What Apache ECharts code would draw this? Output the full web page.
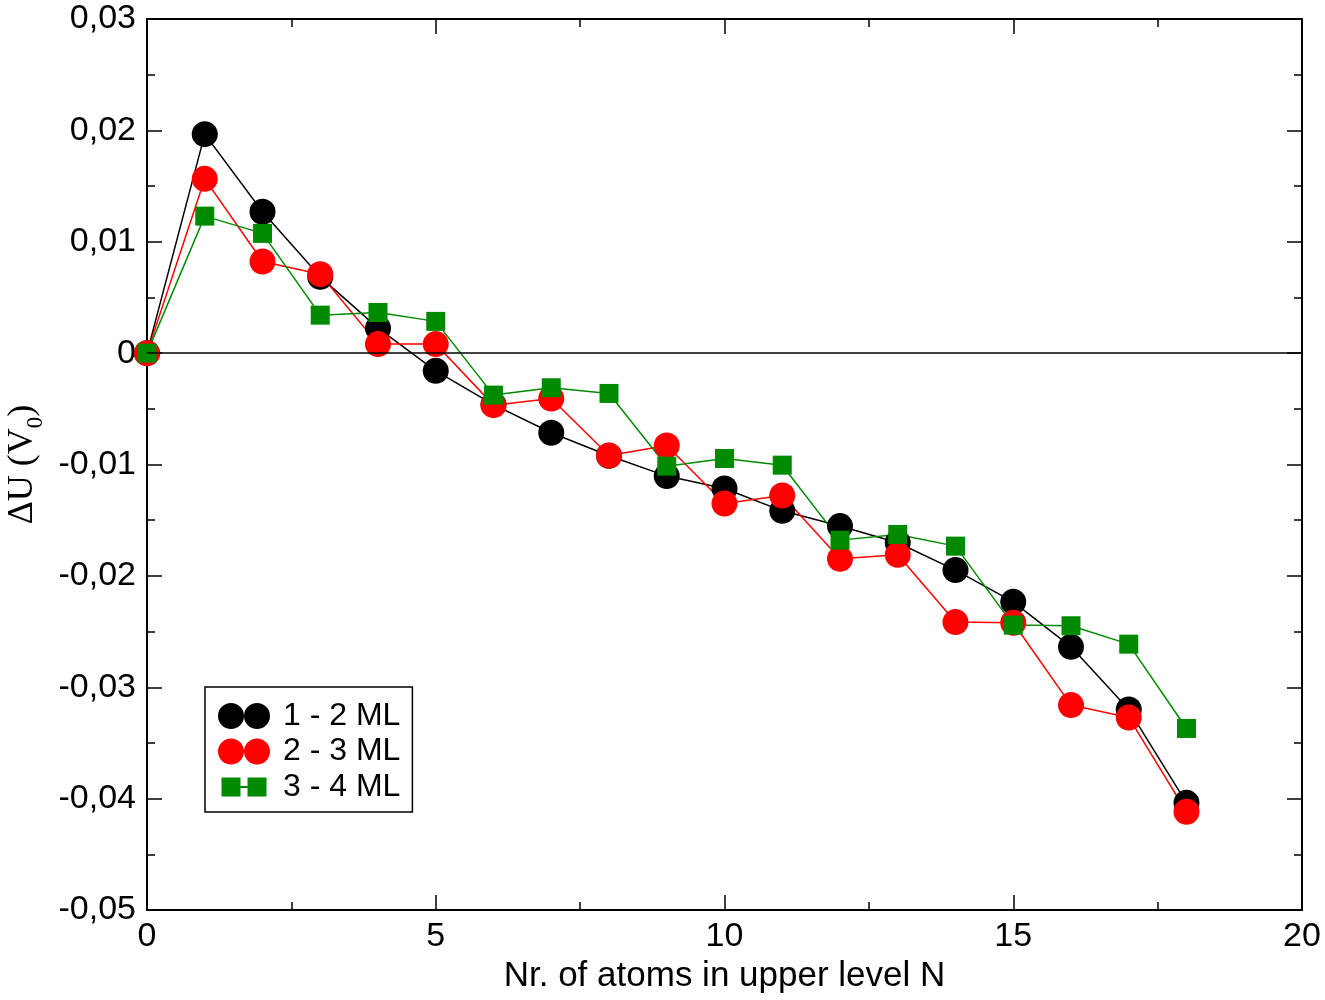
<!DOCTYPE html>
<html><head><meta charset="utf-8">
<script src="https://cdn.jsdelivr.net/npm/echarts@6/dist/echarts.min.js"></script>
<style>html,body{margin:0;padding:0;background:#fff}#c{width:1325px;height:1000px}</style>
</head><body><div id="c"></div>
<script>
// ---- data ----
const atomsN = [0,1,2,3,4,5,6,7,8,9,10,11,12,13,14,15,16,17,18];
const ml12 = [0, 0.01966, 0.01269, 0.00685, 0.00224, -0.00159, -0.00462, -0.00715, -0.00921, -0.01104, -0.01215, -0.01416, -0.01553, -0.01703, -0.01948, -0.02233, -0.02637, -0.03200, -0.04038];
const ml23 = [0, 0.01565, 0.00823, 0.00709, 0.00081, 0.00081, -0.00467, -0.00407, -0.00919, -0.00829, -0.01350, -0.01278, -0.01847, -0.01811, -0.02415, -0.02421, -0.03160, -0.03271, -0.04118];
const ml34 = [0, 0.01230, 0.01075, 0.00341, 0.00365, 0.00285, -0.00377, -0.00311, -0.00362, -0.01015, -0.00946, -0.01006, -0.01679, -0.01628, -0.01733, -0.02442, -0.02448, -0.02613, -0.03370];
const seriesNames = ['1 - 2 ML', '2 - 3 ML', '3 - 4 ML'];
const xTitle = 'Nr. of atoms in upper level N';
const yTitleMain = 'ΔU (V';
const yTitleSub = '0';
const yTitleEnd = ')';

// ---- styling ----
const SANS = '"Liberation Sans", Arial, Helvetica, sans-serif';
const SERIF = '"Liberation Serif", "Times New Roman", serif';
const colors = ['#000000', '#ff0000', '#008a00'];

function yFmt(v) {
  const r = Math.round(v * 100) / 100;
  if (r === 0) return '0';
  return r.toFixed(2).replace('.', ',');
}

const lineStyleAx = { color: '#000', width: 2 };
const tickCommon = { show: true, inside: true, length: 15, lineStyle: { color: '#000', width: 1.5 } };
const minorCommon = { show: true, splitNumber: 2, length: 8, lineStyle: { color: '#000', width: 1.5 } };

const circles2 = 'path://M0,13 A13,13 0 1,0 26,13 A13,13 0 1,0 0,13 Z M26,13 A13,13 0 1,0 52,13 A13,13 0 1,0 26,13 Z';
const squares2 = 'path://M0,0 L0,0.001 Z M52,26 L52,25.999 Z M3.5,3.5 L22.5,3.5 L22.5,12 L29.5,12 L29.5,3.5 L48.5,3.5 L48.5,22.5 L29.5,22.5 L29.5,14 L22.5,14 L22.5,22.5 L3.5,22.5 Z';

function mk(arr) { return atomsN.map((n, i) => [n, arr[i]]); }

const chart = echarts.init(document.getElementById('c'), null, { renderer: 'canvas' });
chart.setOption({
  animation: false,
  backgroundColor: '#fff',
  grid: { left: 147, right: 23, top: 19, bottom: 90, containLabel: false, outerBoundsMode: 'none' },
  xAxis: [{
    type: 'value', min: 0, max: 20, interval: 5, position: 'bottom',
    axisLine: { onZero: false, lineStyle: lineStyleAx },
    axisTick: tickCommon, minorTick: minorCommon,
    splitLine: { show: false },
    axisLabel: { color: '#000', fontSize: 34, fontFamily: SANS, margin: 10 },
    name: xTitle, nameLocation: 'middle', nameGap: 46,
    nameTextStyle: { color: '#000', fontSize: 35, fontFamily: SANS }
  }, {
    type: 'value', min: 0, max: 20, interval: 5, position: 'top',
    axisLine: { onZero: false, lineStyle: lineStyleAx },
    axisTick: tickCommon, minorTick: minorCommon,
    splitLine: { show: false }, axisLabel: { show: false }
  }],
  yAxis: [{
    type: 'value', min: -0.05, max: 0.03, interval: 0.01, position: 'left',
    axisLine: { onZero: false, lineStyle: lineStyleAx },
    axisTick: tickCommon, minorTick: minorCommon,
    splitLine: { show: false },
    axisLabel: { color: '#000', fontSize: 34, fontFamily: SANS, margin: 11, formatter: yFmt },
    name: '{a|' + yTitleMain + '}{s|' + yTitleSub + '}{a|' + yTitleEnd + '}',
    nameLocation: 'middle', nameGap: 103, nameRotate: 90,
    nameTextStyle: {
      color: '#000', fontFamily: SERIF,
      rich: {
        a: { fontSize: 36, fontFamily: SERIF, color: '#000', lineHeight: 36, verticalAlign: 'top' },
        s: { fontSize: 23, fontFamily: SERIF, color: '#000', lineHeight: 23, verticalAlign: 'top', padding: [20, 0, 0, 0] }
      }
    }
  }, {
    type: 'value', min: -0.05, max: 0.03, interval: 0.01, position: 'right',
    axisLine: { onZero: false, lineStyle: lineStyleAx },
    axisTick: tickCommon, minorTick: minorCommon,
    splitLine: { show: false }, axisLabel: { show: false }
  }],
  legend: {
    left: 205, top: 687, orient: 'vertical',
    itemWidth: 52, itemHeight: 26, itemGap: 3.5,
    padding: [13, 12, 9, 13],
    borderColor: '#000', borderWidth: 1.5, backgroundColor: '#fff',
    textStyle: { color: '#000', fontSize: 32, fontFamily: SANS, padding: [0, 0, 0, 8] },
    data: [
      { name: seriesNames[0], icon: circles2 },
      { name: seriesNames[1], icon: circles2 },
      { name: seriesNames[2], icon: squares2 }
    ]
  },
  series: [
    {
      name: seriesNames[0], type: 'line', data: mk(ml12), xAxisIndex: 0, yAxisIndex: 0,
      symbol: 'circle', symbolSize: 26, color: colors[0],
      lineStyle: { color: colors[0], width: 1.5 }, itemStyle: { color: colors[0] },
      markLine: {
        silent: true, symbol: ['none', 'none'], label: { show: false },
        lineStyle: { color: '#000', type: 'solid', width: 1.5 },
        data: [{ yAxis: 0 }]
      }
    },
    {
      name: seriesNames[1], type: 'line', data: mk(ml23), xAxisIndex: 0, yAxisIndex: 0,
      symbol: 'circle', symbolSize: 26, color: colors[1],
      lineStyle: { color: colors[1], width: 1.5 }, itemStyle: { color: colors[1] }
    },
    {
      name: seriesNames[2], type: 'line', data: mk(ml34), xAxisIndex: 0, yAxisIndex: 0,
      symbol: 'rect', symbolSize: 19, color: colors[2],
      lineStyle: { color: colors[2], width: 1.5 }, itemStyle: { color: colors[2] }
    }
  ]
});
</script>
</body></html>
